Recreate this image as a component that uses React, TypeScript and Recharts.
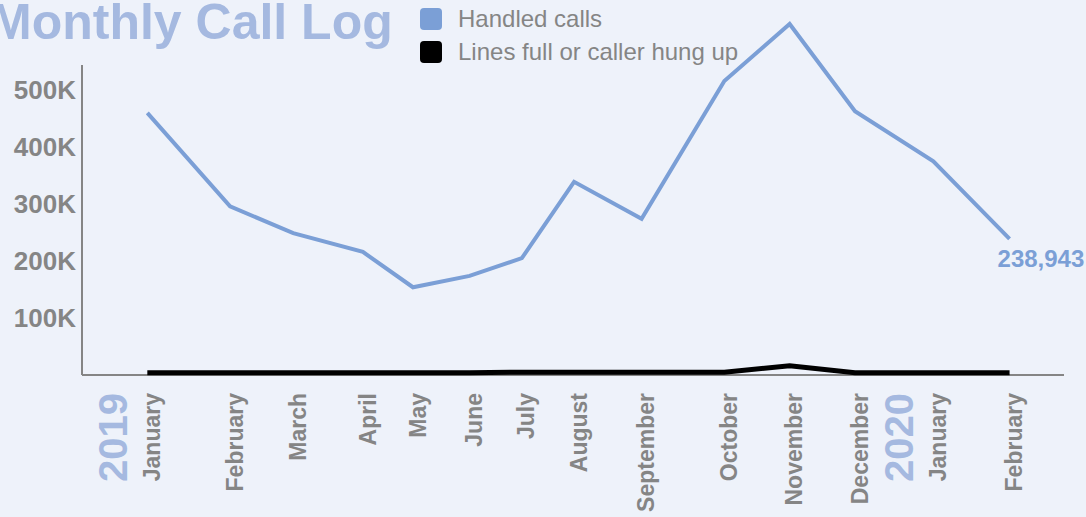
import React from 'react';
import {
  LineChart,
  Line,
  XAxis,
  YAxis,
  Legend,
  LabelList,
  ReferenceLine,
} from 'recharts';

// values
const months = [
  'January', 'February', 'March', 'April', 'May', 'June', 'July',
  'August', 'September', 'October', 'November', 'December', 'January', 'February',
];
const yearStarts = ['2019', '', '', '', '', '', '', '', '', '', '', '', '2020', ''];
const reportDates = [
  '2019-01-01', '2019-02-08', '2019-03-09', '2019-04-10', '2019-05-03', '2019-05-29', '2019-06-22',
  '2019-07-16', '2019-08-16', '2019-09-23', '2019-10-23', '2019-11-22', '2019-12-28', '2020-02-01',
];
const handledCalls = [
  460000, 296000, 249000, 216000, 154000, 174000, 205000,
  339000, 274000, 516000, 616000, 463000, 375000, 238943,
];
const droppedCalls = [
  4000, 4000, 4000, 4000, 4000, 4000, 5000,
  5000, 5000, 5000, 16000, 4000, 4000, 4000,
];
const yTicks = [100000, 200000, 300000, 400000, 500000];

const xStart = Date.parse('2018-12-02');
const xEnd = Date.parse('2020-02-26');

const data = months.map((m, i) => ({
  month: m,
  year: yearStarts[i],
  t: Date.parse(reportDates[i]),
  handled: handledCalls[i],
  dropped: droppedCalls[i],
}));

const BLUE = '#7b9fd6';
const PALE = '#a5b9e0';
const GREY = '#858585';
const FONT = '"Liberation Sans", Arial, sans-serif';

function MonthTick(props: any) {
  const { x, y, payload } = props;
  const row = data.find((d) => d.t === payload.value);
  if (!row) return null;
  const yx = x - 34;
  return (
    <g>
      {row.year ? (
        <text
          x={yx}
          y={y}
          transform={`rotate(-90 ${yx} ${y})`}
          textAnchor="end"
          dy="0.35em"
          fontSize={40}
          fontWeight="bold"
          fontFamily={FONT}
          fill={PALE}
        >
          {row.year}
        </text>
      ) : null}
      <text
        x={x}
        y={y}
        transform={`rotate(-90 ${x} ${y})`}
        textAnchor="end"
        dy="0.55em"
        fontSize={23}
        fontWeight="bold"
        fontFamily={FONT}
        fill={GREY}
      >
        {row.month}
      </text>
    </g>
  );
}

function LastValue(props: any) {
  const { x, y, value, index } = props;
  if (index !== data.length - 1) return null;
  return (
    <text x={x - 12} y={y + 28} fontSize={24} fontWeight="bold" fontFamily={FONT} fill={BLUE}>
      {Number(value).toLocaleString('en-US')}
    </text>
  );
}

function LegendBox(props: any) {
  const { payload } = props;
  return (
    <div style={{ fontFamily: FONT }}>
      {(payload || []).map((p: any) => (
        <div key={p.value} style={{ display: 'flex', alignItems: 'center', height: 33 }}>
          <div
            style={{ width: 22, height: 22, borderRadius: 4, background: p.color, marginRight: 16 }}
          />
          <span style={{ fontSize: 24, color: GREY, lineHeight: '24px' }}>{p.value}</span>
        </div>
      ))}
    </div>
  );
}

export default function App() {
  return (
    <div
      style={{
        position: 'absolute',
        left: 0,
        top: 0,
        width: 1086,
        height: 517,
        background: '#eef2fa',
        overflow: 'hidden',
      }}
    >
      <div
        style={{
          position: 'absolute',
          left: -10,
          top: -3,
          fontFamily: FONT,
          fontWeight: 'bold',
          fontSize: 50,
          lineHeight: '50px',
          color: PALE,
          whiteSpace: 'nowrap',
        }}
      >
        Monthly Call Log
      </div>
      <LineChart
        width={1086}
        height={517}
        data={data}
        margin={{ top: 20, right: 22, bottom: 0, left: 0 }}
      >
        <XAxis
          dataKey="t"
          type="number"
          scale="linear"
          domain={[xStart, xEnd]}
          ticks={data.map((d) => d.t)}
          interval={0}
          height={142}
          tickSize={0}
          tickMargin={18}
          tick={<MonthTick />}
          axisLine={false}
        />
        <YAxis
          width={82}
          domain={[0, 623000]}
          ticks={yTicks}
          axisLine={false}
          tickLine={false}
          tickSize={0}
          tickMargin={6}
          tickFormatter={(v: number) => `${v / 1000}K`}
          tick={{ fill: GREY, fontSize: 26, fontWeight: 'bold', fontFamily: FONT }}
        />
        <ReferenceLine
          segment={[
            { x: xStart, y: 0 },
            { x: xStart, y: 544000 },
          ]}
          stroke={GREY}
          strokeWidth={2}
          ifOverflow="visible"
        />
        <ReferenceLine
          segment={[
            { x: xStart, y: 0 },
            { x: xEnd, y: 0 },
          ]}
          stroke={GREY}
          strokeWidth={2}
          ifOverflow="visible"
        />
        <Legend
          layout="vertical"
          align="center"
          verticalAlign="middle"
          content={<LegendBox />}
          wrapperStyle={{ top: 2, left: 420, width: 'auto', height: 'auto' }}
        />
        <Line
          type="linear"
          dataKey="handled"
          name="Handled calls"
          stroke={BLUE}
          strokeWidth={4}
          dot={false}
          isAnimationActive={false}
        >
          <LabelList dataKey="handled" content={<LastValue />} />
        </Line>
        <Line
          type="linear"
          dataKey="dropped"
          name="Lines full or caller hung up"
          stroke="#000000"
          strokeWidth={5}
          dot={false}
          isAnimationActive={false}
        />
      </LineChart>
    </div>
  );
}
